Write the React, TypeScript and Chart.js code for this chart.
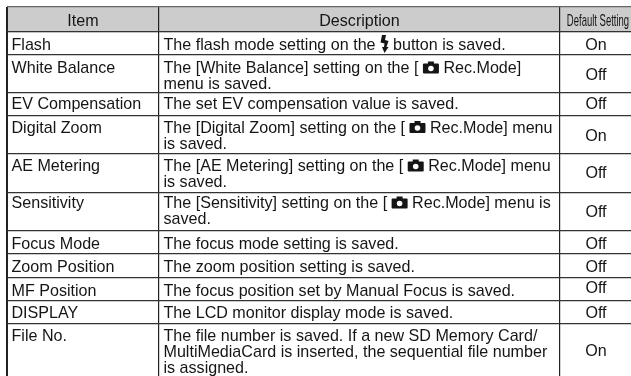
import React, { useEffect, useRef } from "react";
import { Chart, registerables } from "chart.js";

Chart.register(...registerables);

const headers = ["Item", "Description", "Default Setting"];
const items = ["Flash", "White Balance", "EV Compensation", "Digital Zoom", "AE Metering", "Sensitivity", "Focus Mode", "Zoom Position", "MF Position", "DISPLAY", "File No."];
const descriptions = [
  "The flash mode setting on the {flash} button is saved.",
  "The [White Balance] setting on the [ {cam} Rec.Mode]\nmenu is saved.",
  "The set EV compensation value is saved.",
  "The [Digital Zoom] setting on the [ {cam} Rec.Mode] menu\nis saved.",
  "The [AE Metering] setting on the [ {cam} Rec.Mode] menu\nis saved.",
  "The [Sensitivity] setting on the [ {cam} Rec.Mode] menu is\nsaved.",
  "The focus mode setting is saved.",
  "The zoom position setting is saved.",
  "The focus position set by Manual Focus is saved.",
  "The LCD monitor display mode is saved.",
  "The file number is saved. If a new SD Memory Card/\nMultiMediaCard is inserted, the sequential file number\nis assigned.",
];
const defaults = ["On", "Off", "Off", "On", "Off", "Off", "Off", "Off", "Off", "Off", "On"];

// Table geometry, in the axes' units
const columnEdges = [7, 159, 560, 631];
const rowEdges = [7, 32, 55, 93, 116, 154, 193, 231, 254, 278, 301, 324, 376];
const textBaselines = [50, 73, 109, 132.5, 171, 208, 249, 272, 295.5, 318, 340.5];
const defaultBaselines = [50, 80, 109, 140.5, 177.5, 216.5, 249, 272, 293, 318, 356];
const headerBaseline = 26;
const LINE_GAP = 16;
const TEXT_INSET = 4.5;
const FONT = "16.1px 'Liberation Sans', Arial, sans-serif";
const INK = "#151515";

function drawCamera(ctx: CanvasRenderingContext2D, x: number, base: number) {
  ctx.fillStyle = INK;
  ctx.beginPath();
  ctx.roundRect(x, base - 9.5, 16, 10, 1);
  ctx.fill();
  ctx.fillRect(x + 5, base - 11.5, 6, 2.5);
  ctx.fillStyle = "#fff";
  ctx.beginPath();
  ctx.arc(x + 8, base - 4.5, 2.8, 0, Math.PI * 2);
  ctx.fill();
}

function drawFlash(ctx: CanvasRenderingContext2D, x: number, base: number) {
  ctx.fillStyle = INK;
  ctx.beginPath();
  ctx.moveTo(x + 2, base - 15);
  ctx.lineTo(x + 6, base - 15);
  ctx.lineTo(x + 5, base - 10);
  ctx.lineTo(x + 8.5, base - 9);
  ctx.lineTo(x + 6.5, base - 3);
  ctx.lineTo(x + 8.5, base - 3);
  ctx.lineTo(x + 4.5, base + 3);
  ctx.lineTo(x + 2, base - 3);
  ctx.lineTo(x + 4, base - 3);
  ctx.lineTo(x + 4.5, base - 6.5);
  ctx.lineTo(x + 0.5, base - 7.5);
  ctx.closePath();
  ctx.fill();
}

function drawRich(ctx: CanvasRenderingContext2D, line: string, x: number, y: number) {
  let cx = x;
  line.split(/(\{cam\}|\{flash\})/).forEach((part) => {
    if (part === "{cam}") {
      drawCamera(ctx, cx, y);
      cx += 16;
    } else if (part === "{flash}") {
      drawFlash(ctx, cx, y);
      cx += 8.5;
    } else if (part) {
      ctx.fillStyle = INK;
      ctx.fillText(part, cx, y);
      cx += ctx.measureText(part).width;
    }
  });
}

const tableText = {
  id: "tableText",
  afterDraw(chart: any) {
    const { ctx, scales } = chart;
    const px = (v: number) => scales.x.getPixelForValue(v);
    const py = (v: number) => scales.y.getPixelForValue(v);
    ctx.save();
    ctx.font = FONT;
    ctx.textBaseline = "alphabetic";
    ctx.fillStyle = INK;

    // header
    ctx.textAlign = "center";
    ctx.fillText(headers[0], px((columnEdges[0] + columnEdges[1]) / 2), py(headerBaseline));
    ctx.fillText(headers[1], px((columnEdges[1] + columnEdges[2]) / 2), py(headerBaseline));
    ctx.save();
    ctx.translate(px((columnEdges[2] + columnEdges[3]) / 2 + 2.5), py(headerBaseline));
    ctx.scale(0.59, 1);
    ctx.fillText(headers[2], 0, 0);
    ctx.restore();

    // body, through the point datasets' elements
    const itemMeta = chart.getDatasetMeta(1).data;
    const descMeta = chart.getDatasetMeta(2).data;
    const defMeta = chart.getDatasetMeta(3).data;
    items.forEach((item, i) => {
      ctx.textAlign = "left";
      ctx.fillStyle = INK;
      ctx.fillText(item, itemMeta[i].x, itemMeta[i].y);
      descriptions[i].split("\n").forEach((line, j) => {
        drawRich(ctx, line, descMeta[i].x, descMeta[i].y + j * LINE_GAP);
      });
      ctx.textAlign = "center";
      ctx.fillStyle = INK;
      ctx.fillText(defaults[i], defMeta[i].x, defMeta[i].y);
    });
    ctx.restore();
  },
};

export default function App() {
  const ref = useRef<HTMLCanvasElement>(null);
  useEffect(() => {
    document.body.style.margin = "0";
    document.body.style.background = "#fff";
    const pointSet = (label: string, x: number, ys: number[]) => ({
      type: "scatter" as const,
      label,
      data: ys.map((y) => ({ x, y })),
      pointRadius: 0,
      showLine: false,
    });
    const chart = new Chart(ref.current!, {
      type: "scatter",
      data: {
        datasets: [
          {
            type: "bar",
            label: "Header",
            indexAxis: "y",
            data: [{ x: [columnEdges[0], columnEdges[3]], y: (rowEdges[0] + rowEdges[1]) / 2 }],
            backgroundColor: "#cccccc",
            barThickness: rowEdges[1] - rowEdges[0],
            order: 10,
          } as any,
          pointSet(headers[0], columnEdges[0] + TEXT_INSET, textBaselines),
          pointSet(headers[1], columnEdges[1] + TEXT_INSET, textBaselines),
          pointSet(headers[2], (columnEdges[2] + columnEdges[3]) / 2 + 0.5, defaultBaselines),
        ],
      },
      options: {
        animation: false,
        responsive: false,
        layout: { padding: { left: columnEdges[0], top: rowEdges[0], right: 0, bottom: 0 } },
        plugins: { legend: { display: false }, tooltip: { enabled: false } },
        scales: {
          x: {
            type: "linear",
            position: "top",
            min: columnEdges[0],
            max: columnEdges[3],
            offset: false,
            border: { display: false },
            grid: { color: "#222", lineWidth: (c: any) => (c.tick?.value === columnEdges[0] ? 2 : 1.2), z: 1, drawTicks: false, offset: false },
            ticks: { display: false },
            afterBuildTicks: (s: any) => {
              s.ticks = columnEdges.slice(0, 3).map((value) => ({ value }));
            },
          },
          y: {
            type: "linear",
            reverse: true,
            min: rowEdges[0],
            max: rowEdges[rowEdges.length - 1],
            offset: false,
            border: { display: false },
            grid: { color: (c: any) => (c.tick?.value === rowEdges[0] ? "#666" : "#333"), lineWidth: 1.2, z: 1, drawTicks: false, offset: false },
            ticks: { display: false },
            afterBuildTicks: (s: any) => {
              s.ticks = rowEdges.slice(0, -1).map((value) => ({ value }));
            },
          },
        },
      } as any,
      plugins: [tableText],
    });
    return () => chart.destroy();
  }, []);
  return <canvas ref={ref} width={631} height={376} style={{ display: "block" }} />;
}
